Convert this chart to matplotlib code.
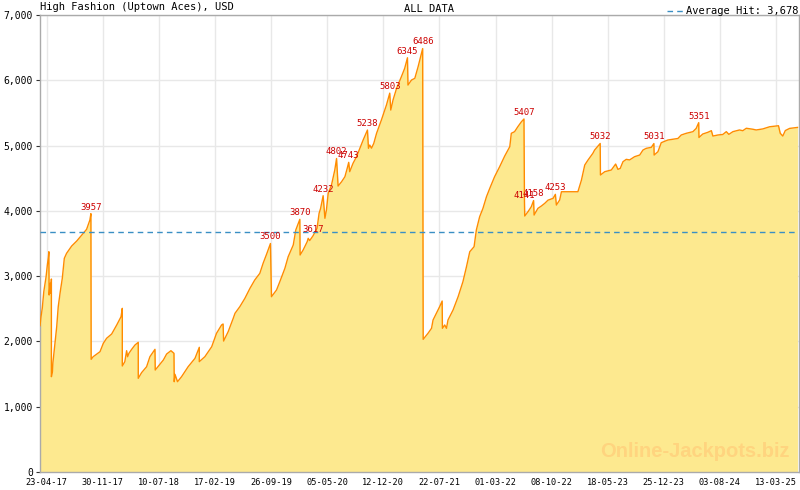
import matplotlib
matplotlib.use('Agg')
import matplotlib.pyplot as plt
import matplotlib.dates as mdates
from matplotlib.ticker import FixedLocator, FuncFormatter
import pandas as pd

title = 'High Fashion (Uptown Aces), USD'
period = 'ALL DATA'
average_hit = 3678
start_date = '2017-03-28'

day_offsets = [
    0, 4, 9, 15, 24, 29, 33, 35, 36, 40, 42, 45, 45, 49, 51, 59, 66, 72, 80, 88,
    92, 96, 105, 125, 145, 165, 184, 197, 201, 202, 210, 237, 250, 263, 283, 303, 320, 325, 325, 335,
    342, 346, 351, 362, 375, 388, 388, 401, 421, 434, 454, 455, 474, 487, 500, 517, 529, 530, 533, 543,
    559, 585, 612, 629, 629, 651, 678, 697, 717, 723, 725, 743, 763, 770, 789, 809, 829, 848, 868, 881,
    895, 910, 914, 934, 947, 967, 980, 1000, 1010, 1026, 1027, 1039, 1055, 1059, 1065, 1078, 1094, 1102, 1108, 1118,
    1125, 1131, 1138, 1151, 1164, 1171, 1177, 1191, 1204, 1213, 1219, 1223, 1236, 1250, 1263, 1276, 1293, 1297, 1302, 1309,
    1318, 1329, 1348, 1368, 1381, 1385, 1394, 1408, 1427, 1440, 1451, 1453, 1467, 1480, 1493, 1506, 1511, 1513, 1532, 1546,
    1552, 1565, 1578, 1588, 1589, 1598, 1605, 1611, 1631, 1651, 1670, 1684, 1697, 1714, 1723, 1736, 1749, 1763, 1776, 1795,
    1815, 1835, 1855, 1861, 1874, 1887, 1901, 1911, 1913, 1914, 1927, 1940, 1949, 1951, 1966, 1980, 1993, 2006, 2026, 2035,
    2039, 2052, 2059, 2124, 2138, 2151, 2164, 2183, 2190, 2212, 2213, 2230, 2256, 2273, 2282, 2291, 2302, 2315, 2328, 2348,
    2368, 2381, 2394, 2414, 2424, 2425, 2440, 2447, 2453, 2479, 2519, 2532, 2552, 2578, 2591, 2601, 2602, 2617, 2637, 2651,
    2657, 2677, 2696, 2710, 2720, 2736, 2762, 2775, 2789, 2815, 2828, 2854, 2881, 2916, 2923, 2933, 2943, 2960, 2991,
]

amounts = [
    2241, 2379, 2510, 2762, 2991, 3170, 3288, 3374, 2711, 2890, 2737, 2956, 1460, 1536, 1674, 1976, 2226, 2532, 2762, 2966,
    3120, 3273, 3350, 3461, 3538, 3630, 3717, 3860, 3957, 1726, 1766, 1843, 1971, 2048, 2114, 2252, 2379, 2507, 1624, 1690,
    1858, 1766, 1817, 1879, 1945, 1986, 1435, 1521, 1613, 1766, 1879, 1562, 1654, 1715, 1807, 1858, 1818, 1383, 1496, 1383,
    1460, 1613, 1741, 1910, 1690, 1766, 1919, 2124, 2252, 2267, 2006, 2149, 2354, 2431, 2532, 2660, 2813, 2941, 3043, 3197,
    3339, 3500, 2685, 2788, 2915, 3120, 3298, 3477, 3707, 3870, 3324, 3400, 3527, 3579, 3545, 3617, 3732, 3962, 4038, 4232,
    3886, 4013, 4269, 4396, 4626, 4802, 4380, 4447, 4523, 4651, 4743, 4600, 4728, 4830, 4958, 5085, 5238, 4958, 5008, 4960,
    5034, 5188, 5391, 5621, 5803, 5544, 5698, 5877, 6055, 6183, 6345, 5927, 6004, 6030, 6208, 6413, 6486, 2032, 2124, 2201,
    2328, 2431, 2532, 2619, 2201, 2252, 2201, 2328, 2481, 2685, 2915, 3144, 3374, 3451, 3707, 3910, 4038, 4217, 4345, 4523,
    4676, 4840, 4983, 5188, 5213, 5290, 5365, 5407, 4141, 3921, 3987, 4064, 4158, 3936, 4038, 4075, 4115, 4164, 4192, 4253,
    4089, 4166, 4293, 4293, 4472, 4702, 4779, 4881, 4932, 5032, 4549, 4600, 4626, 4717, 4636, 4650, 4753, 4789, 4780, 4830,
    4855, 4932, 4958, 4973, 5031, 4855, 4906, 4983, 5044, 5085, 5109, 5162, 5188, 5213, 5263, 5351, 5124, 5177, 5203, 5228,
    5146, 5162, 5170, 5213, 5172, 5213, 5239, 5228, 5265, 5250, 5239, 5255, 5288, 5304, 5188, 5146, 5230, 5263, 5278,
]

peak_days = [201, 910, 1026, 1078, 1118, 1171, 1219, 1293, 1381, 1451, 1511, 1911, 1913, 1949, 2035, 2212, 2424, 2601]
peak_amounts = [3957, 3500, 3870, 3617, 4232, 4802, 4743, 5238, 5803, 6345, 6486, 5407, 4141, 4158, 4253, 5032, 5031, 5351]

tick_labels = ['23-04-17', '30-11-17', '10-07-18', '17-02-19', '26-09-19', '05-05-20', '12-12-20',
               '22-07-21', '01-03-22', '08-10-22', '18-05-23', '25-12-23', '03-08-24', '13-03-25']
y_ticks = [0, 1000, 2000, 3000, 4000, 5000, 6000, 7000]

start = pd.Timestamp(start_date)
dates = [start + pd.Timedelta(days=d) for d in day_offsets]
peak_dates = [start + pd.Timedelta(days=d) for d in peak_days]
tick_dates = [pd.to_datetime(t, format='%d-%m-%y') for t in tick_labels]

mono = 'DejaVu Sans Mono'
fig = plt.figure(figsize=(8, 4.9), dpi=100)
ax = fig.add_axes([40 / 800, 18 / 490, 759 / 800, 457 / 490])

ax.fill_between(dates, amounts, 0, color='#fde98f', lw=0, zorder=2)
ax.plot(dates, amounts, color='#ff8c00', lw=1, zorder=3)
avg_line, = ax.plot([dates[0], dates[-1]], [average_hit, average_hit], color='#3a8fc4', lw=1,
                    ls=(0, (4, 3)), zorder=4, label=f'Average Hit: {average_hit:,}')

for d, v in zip(peak_dates, peak_amounts):
    ax.annotate(str(v), (d, v), xytext=(0, 1.5), textcoords='offset points', ha='center', va='bottom',
                color='#cc0000', fontsize=6.5, family=mono, zorder=6)

ax.set_ylim(0, 7000)
ax.set_xlim(dates[0], dates[-1] + pd.Timedelta(days=6))
ax.set_yticks(y_ticks)
ax.yaxis.set_major_formatter(FuncFormatter(lambda v, p: f'{int(v):,}'))

tick_nums = mdates.date2num(tick_dates)
ax.xaxis.set_major_locator(FixedLocator(tick_nums))
ax.set_xticklabels(tick_labels)
step = (tick_nums[1] - tick_nums[0]) / 7
minor = []
x0, x1 = ax.get_xlim()
m = tick_nums[0] - step
while m > x0:
    minor.append(m)
    m -= step
for a, b in zip(tick_nums[:-1], tick_nums[1:]):
    s = (b - a) / 7
    minor += [a + s * k for k in range(1, 7)]
m = tick_nums[-1] + step
while m < x1:
    minor.append(m)
    m += step
ax.xaxis.set_minor_locator(FixedLocator(minor))

ax.set_axisbelow(True)
ax.grid(True, which='major', color='#e8e8e8', lw=1, zorder=0)
for s in ax.spines.values():
    s.set_color('#aaaaaa')
    s.set_linewidth(1)

ax.tick_params(axis='x', which='major', direction='in', length=5, color='#aaaaaa', labelsize=6.2, pad=4.5)
ax.tick_params(axis='x', which='minor', direction='in', length=3, color='#aaaaaa')
ax.tick_params(axis='y', which='major', direction='out', length=3, color='#333333', labelsize=7, pad=2)
for lab in ax.get_xticklabels() + ax.get_yticklabels():
    lab.set_family(mono)

ax.text(0.0, 1.006, title, transform=ax.transAxes, ha='left', va='bottom', fontsize=7.5, family=mono)
fig.text(429 / 800, 1 - 9 / 490, period, ha='center', va='center', fontsize=7.5, family=mono)
leg = ax.legend(handles=[avg_line], loc='lower right', bbox_to_anchor=(1.0, 0.997), frameon=False,
                handlelength=1.6, handletextpad=0.3, borderpad=0, borderaxespad=0,
                prop={'family': mono, 'size': 7.5})

ax.text(0.987, 0.025, 'Online-Jackpots.biz', transform=ax.transAxes, ha='right', va='bottom',
        fontsize=14.5, fontweight='bold', family='Liberation Sans', color='#ffd47f', zorder=5)

fig.savefig('out.png', dpi=100)
